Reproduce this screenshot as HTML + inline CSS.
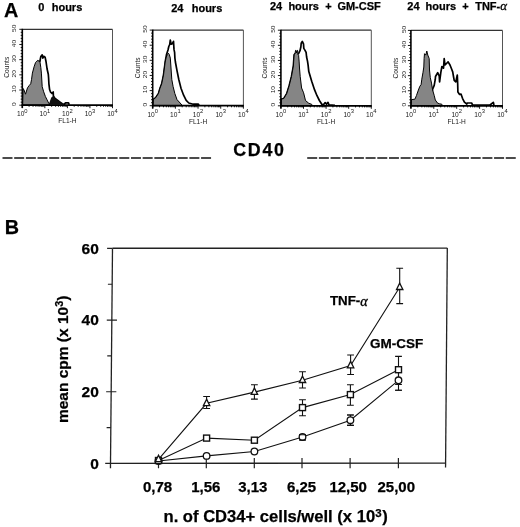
<!DOCTYPE html>
<html><head><meta charset="utf-8"><style>
html,body{margin:0;padding:0;background:#fff;}
svg{display:block;will-change:transform;}
text[font-weight=bold]{stroke:#000;stroke-width:0.25px;}
</style></head><body>
<svg width="520" height="527" viewBox="0 0 520 527" font-family='"Liberation Sans", sans-serif'>
<rect width="520" height="527" fill="#fff"/>
<polyline points="33,85 35.5,66 37.5,61.5 39.9,61.25 40.8,56.6 42.2,54.9 42.8,58.2 43.7,56.3 45.1,57.2 46,61.5 47.1,69 48.3,74.2 48.6,78 48.9,83.8 49.6,89.5 50.6,92.2 52,93.5 53.2,92 53.4,96 54.8,98.2 57.1,99.9 59.4,101.7 62.3,103.7 64.5,104.3 65.5,102.8 68.5,102.8 69.2,104.8" fill="none" stroke="#000" stroke-width="1.7" stroke-linejoin="round"/>
<polygon points="22.6,105 23,88.4 24,90 25.5,94.2 26.5,91 27.5,87.8 29.2,85.5 30.7,83.8 31.5,79.7 32.4,73.1 34.1,66.7 35.6,62.4 36.7,61.25 37.9,60.4 39,61.25 39.9,61.5 40.8,67.3 41.4,73.1 42.2,86.7 43.7,91.8 45.4,96.5 47.1,99.9 48.8,103.4 50,105" fill="#858585" stroke="#000" stroke-width="1.0" stroke-linejoin="round"/>
<polygon points="48.6,104.8 51.3,97.5 53.2,96 54.8,98.4 57.1,100.1 59.4,101.9 62.3,103.9 63.5,104.8" fill="#111"/>
<line x1="22.3" y1="29.3" x2="112.5" y2="29.3" stroke="#333" stroke-width="1.3"/>
<line x1="112.5" y1="29.3" x2="112.5" y2="105.2" stroke="#555" stroke-width="1"/>
<line x1="22.3" y1="28.8" x2="22.3" y2="108.0" stroke="#000" stroke-width="1.6"/>
<line x1="21.5" y1="105.2" x2="113.0" y2="105.2" stroke="#000" stroke-width="1.8"/>
<path d="M19.3,105.2H22.3M20.7,102.16H22.3M20.7,99.13H22.3M20.7,96.09H22.3M20.7,93.06H22.3M19.3,90.02H22.3M20.7,86.98H22.3M20.7,83.95H22.3M20.7,80.91H22.3M20.7,77.88H22.3M19.3,74.84H22.3M20.7,71.8H22.3M20.7,68.77H22.3M20.7,65.73H22.3M20.7,62.7H22.3M19.3,59.66H22.3M20.7,56.62H22.3M20.7,53.59H22.3M20.7,50.55H22.3M20.7,47.52H22.3M19.3,44.48H22.3M20.7,41.44H22.3M20.7,38.41H22.3M20.7,35.37H22.3M20.7,32.34H22.3M19.3,29.3H22.3M22.3,105.2V108.2M29.09,105.2V106.8M33.06,105.2V106.8M35.88,105.2V106.8M38.06,105.2V106.8M39.85,105.2V106.8M41.36,105.2V106.8M42.66,105.2V106.8M43.82,105.2V106.8M44.85,105.2V108.2M51.64,105.2V106.8M55.61,105.2V106.8M58.43,105.2V106.8M60.61,105.2V106.8M62.4,105.2V106.8M63.91,105.2V106.8M65.21,105.2V106.8M66.37,105.2V106.8M67.4,105.2V108.2M74.19,105.2V106.8M78.16,105.2V106.8M80.98,105.2V106.8M83.16,105.2V106.8M84.95,105.2V106.8M86.46,105.2V106.8M87.76,105.2V106.8M88.92,105.2V106.8M89.95,105.2V108.2M96.74,105.2V106.8M100.71,105.2V106.8M103.53,105.2V106.8M105.71,105.2V106.8M107.5,105.2V106.8M109.01,105.2V106.8M110.31,105.2V106.8M111.47,105.2V106.8M112.5,105.2V108.2" stroke="#000" stroke-width="0.9" fill="none"/>
<text transform="translate(15.9,104.2) rotate(-90) scale(1,0.88)" text-anchor="middle" font-size="6.6" fill="#181818">0</text>
<text transform="translate(15.9,89.02) rotate(-90) scale(1,0.88)" text-anchor="middle" font-size="6.6" fill="#181818">10</text>
<text transform="translate(15.9,73.84) rotate(-90) scale(1,0.88)" text-anchor="middle" font-size="6.6" fill="#181818">20</text>
<text transform="translate(15.9,58.66) rotate(-90) scale(1,0.88)" text-anchor="middle" font-size="6.6" fill="#181818">30</text>
<text transform="translate(15.9,43.48) rotate(-90) scale(1,0.88)" text-anchor="middle" font-size="6.6" fill="#181818">40</text>
<text transform="translate(15.9,28.3) rotate(-90) scale(1,0.88)" text-anchor="middle" font-size="6.6" fill="#181818">50</text>
<text transform="translate(9.3,67.25) rotate(-90)" text-anchor="middle" font-size="6.6" fill="#181818">Counts</text>
<text x="22.3" y="116" text-anchor="middle" font-size="6.6" fill="#181818">10<tspan font-size="5.8" dy="-3.3">0</tspan></text>
<text x="44.85" y="116" text-anchor="middle" font-size="6.6" fill="#181818">10<tspan font-size="5.8" dy="-3.3">1</tspan></text>
<text x="67.4" y="116" text-anchor="middle" font-size="6.6" fill="#181818">10<tspan font-size="5.8" dy="-3.3">2</tspan></text>
<text x="89.95" y="116" text-anchor="middle" font-size="6.6" fill="#181818">10<tspan font-size="5.8" dy="-3.3">3</tspan></text>
<text x="112.5" y="116" text-anchor="middle" font-size="6.6" fill="#181818">10<tspan font-size="5.8" dy="-3.3">4</tspan></text>
<text x="67.4" y="123" text-anchor="middle" font-size="6.6" fill="#181818">FL1-H</text>
<polyline points="153,105.7 153.3,99.5 155.7,97.7 158.5,93.4 160,88.2 161.7,83.8 163.5,75.1 165.2,62 166.5,54.6 168,50 168.8,46.5 169.7,44.5 170.3,40.2 171.2,44.2 172.3,43.8 173.5,41.3 174,49.4 174.6,52.3 174.9,58.1 175.4,62 177,70.7 178.8,79.5 181,88.2 183.6,95.2 186.2,100.4 188.8,103 193.2,104.2 198.4,104.2 199,105.3" fill="none" stroke="#000" stroke-width="1.7" stroke-linejoin="round"/>
<polygon points="153,105.7 153.3,99.5 155.7,97.7 158.5,93.4 160,88.2 161.7,83.8 163.5,75.1 165.2,62 166.3,57 167.4,54.4 168.4,53.2 169.3,54.5 170.3,58.1 170.6,62 171.8,79.5 173.1,86.5 174.8,93.4 177,99.6 181,104 182.5,105.7" fill="#858585" stroke="#000" stroke-width="1.0" stroke-linejoin="round"/>
<line x1="152.7" y1="30.1" x2="243.4" y2="30.1" stroke="#333" stroke-width="1.3"/>
<line x1="243.4" y1="30.1" x2="243.4" y2="105.7" stroke="#555" stroke-width="1"/>
<line x1="152.7" y1="29.6" x2="152.7" y2="108.5" stroke="#000" stroke-width="1.6"/>
<line x1="151.89999999999998" y1="105.7" x2="243.9" y2="105.7" stroke="#000" stroke-width="1.8"/>
<path d="M149.7,105.7H152.7M151.1,102.68H152.7M151.1,99.65H152.7M151.1,96.63H152.7M151.1,93.6H152.7M149.7,90.58H152.7M151.1,87.56H152.7M151.1,84.53H152.7M151.1,81.51H152.7M151.1,78.48H152.7M149.7,75.46H152.7M151.1,72.44H152.7M151.1,69.41H152.7M151.1,66.39H152.7M151.1,63.36H152.7M149.7,60.34H152.7M151.1,57.32H152.7M151.1,54.29H152.7M151.1,51.27H152.7M151.1,48.24H152.7M149.7,45.22H152.7M151.1,42.2H152.7M151.1,39.17H152.7M151.1,36.15H152.7M151.1,33.12H152.7M149.7,30.1H152.7M152.7,105.7V108.7M159.53,105.7V107.3M163.52,105.7V107.3M166.35,105.7V107.3M168.55,105.7V107.3M170.34,105.7V107.3M171.86,105.7V107.3M173.18,105.7V107.3M174.34,105.7V107.3M175.38,105.7V108.7M182.2,105.7V107.3M186.19,105.7V107.3M189.03,105.7V107.3M191.22,105.7V107.3M193.02,105.7V107.3M194.54,105.7V107.3M195.85,105.7V107.3M197.01,105.7V107.3M198.05,105.7V108.7M204.88,105.7V107.3M208.87,105.7V107.3M211.7,105.7V107.3M213.9,105.7V107.3M215.69,105.7V107.3M217.21,105.7V107.3M218.53,105.7V107.3M219.69,105.7V107.3M220.72,105.7V108.7M227.55,105.7V107.3M231.54,105.7V107.3M234.38,105.7V107.3M236.57,105.7V107.3M238.37,105.7V107.3M239.89,105.7V107.3M241.2,105.7V107.3M242.36,105.7V107.3M243.4,105.7V108.7" stroke="#000" stroke-width="0.9" fill="none"/>
<text transform="translate(147.3,104.7) rotate(-90) scale(1,0.88)" text-anchor="middle" font-size="6.6" fill="#181818">0</text>
<text transform="translate(147.3,89.58) rotate(-90) scale(1,0.88)" text-anchor="middle" font-size="6.6" fill="#181818">10</text>
<text transform="translate(147.3,74.46) rotate(-90) scale(1,0.88)" text-anchor="middle" font-size="6.6" fill="#181818">20</text>
<text transform="translate(147.3,59.34) rotate(-90) scale(1,0.88)" text-anchor="middle" font-size="6.6" fill="#181818">30</text>
<text transform="translate(147.3,44.22) rotate(-90) scale(1,0.88)" text-anchor="middle" font-size="6.6" fill="#181818">40</text>
<text transform="translate(147.3,29.1) rotate(-90) scale(1,0.88)" text-anchor="middle" font-size="6.6" fill="#181818">50</text>
<text transform="translate(139.6,67.9) rotate(-90)" text-anchor="middle" font-size="6.6" fill="#181818">Counts</text>
<text x="152.7" y="116.5" text-anchor="middle" font-size="6.6" fill="#181818">10<tspan font-size="5.8" dy="-3.3">0</tspan></text>
<text x="175.38" y="116.5" text-anchor="middle" font-size="6.6" fill="#181818">10<tspan font-size="5.8" dy="-3.3">1</tspan></text>
<text x="198.05" y="116.5" text-anchor="middle" font-size="6.6" fill="#181818">10<tspan font-size="5.8" dy="-3.3">2</tspan></text>
<text x="220.72" y="116.5" text-anchor="middle" font-size="6.6" fill="#181818">10<tspan font-size="5.8" dy="-3.3">3</tspan></text>
<text x="243.4" y="116.5" text-anchor="middle" font-size="6.6" fill="#181818">10<tspan font-size="5.8" dy="-3.3">4</tspan></text>
<text x="198.05" y="123.5" text-anchor="middle" font-size="6.6" fill="#181818">FL1-H</text>
<polyline points="281.2,105.8 281.4,99 283.8,98.5 286.7,93.7 289.1,86 291.5,76.4 293.4,66 293.7,61.1 294.2,54.7 295.1,53.6 298.4,54 300,50.7 300.9,46.7 301.2,43.2 302.3,41.5 303.5,43.8 303.8,48.4 304.9,50.1 306.1,52.4 306.6,57 307.5,61.1 308.1,65.1 308.8,71.6 311.7,81.2 314.6,89.9 317,95.7 319.4,100.5 321.8,104.3 323.5,104.8 325.2,102.6 326.5,104.3 328,102.4 329,104.8 335,105.3" fill="none" stroke="#000" stroke-width="1.7" stroke-linejoin="round"/>
<polygon points="281.2,105.8 281.4,99 283.8,98.5 286.7,93.7 289.1,86 291.5,76.4 293.4,66 293.7,61.1 294.2,54.7 295.1,53.6 295.5,50.4 296,50.4 296.5,53 297.1,50.4 297.6,50.4 298,54.7 298.6,55.3 299.1,61.1 299.5,68 300.2,76.4 301.6,88 303.6,92.8 305.5,100.5 308.8,103.3 311.7,104.3 312.5,105.8" fill="#858585" stroke="#000" stroke-width="1.0" stroke-linejoin="round"/>
<line x1="280.9" y1="30.2" x2="371.3" y2="30.2" stroke="#333" stroke-width="1.3"/>
<line x1="371.3" y1="30.2" x2="371.3" y2="105.8" stroke="#555" stroke-width="1"/>
<line x1="280.9" y1="29.7" x2="280.9" y2="108.6" stroke="#000" stroke-width="1.6"/>
<line x1="280.09999999999997" y1="105.8" x2="371.8" y2="105.8" stroke="#000" stroke-width="1.8"/>
<path d="M277.9,105.8H280.9M279.3,102.78H280.9M279.3,99.75H280.9M279.3,96.73H280.9M279.3,93.7H280.9M277.9,90.68H280.9M279.3,87.66H280.9M279.3,84.63H280.9M279.3,81.61H280.9M279.3,78.58H280.9M277.9,75.56H280.9M279.3,72.54H280.9M279.3,69.51H280.9M279.3,66.49H280.9M279.3,63.46H280.9M277.9,60.44H280.9M279.3,57.42H280.9M279.3,54.39H280.9M279.3,51.37H280.9M279.3,48.34H280.9M277.9,45.32H280.9M279.3,42.3H280.9M279.3,39.27H280.9M279.3,36.25H280.9M279.3,33.22H280.9M277.9,30.2H280.9M280.9,105.8V108.8M287.7,105.8V107.4M291.68,105.8V107.4M294.51,105.8V107.4M296.7,105.8V107.4M298.49,105.8V107.4M300,105.8V107.4M301.31,105.8V107.4M302.47,105.8V107.4M303.5,105.8V108.8M310.3,105.8V107.4M314.28,105.8V107.4M317.11,105.8V107.4M319.3,105.8V107.4M321.09,105.8V107.4M322.6,105.8V107.4M323.91,105.8V107.4M325.07,105.8V107.4M326.1,105.8V108.8M332.9,105.8V107.4M336.88,105.8V107.4M339.71,105.8V107.4M341.9,105.8V107.4M343.69,105.8V107.4M345.2,105.8V107.4M346.51,105.8V107.4M347.67,105.8V107.4M348.7,105.8V108.8M355.5,105.8V107.4M359.48,105.8V107.4M362.31,105.8V107.4M364.5,105.8V107.4M366.29,105.8V107.4M367.8,105.8V107.4M369.11,105.8V107.4M370.27,105.8V107.4M371.3,105.8V108.8" stroke="#000" stroke-width="0.9" fill="none"/>
<text transform="translate(275.2,104.8) rotate(-90) scale(1,0.88)" text-anchor="middle" font-size="6.6" fill="#181818">0</text>
<text transform="translate(275.2,89.68) rotate(-90) scale(1,0.88)" text-anchor="middle" font-size="6.6" fill="#181818">10</text>
<text transform="translate(275.2,74.56) rotate(-90) scale(1,0.88)" text-anchor="middle" font-size="6.6" fill="#181818">20</text>
<text transform="translate(275.2,59.44) rotate(-90) scale(1,0.88)" text-anchor="middle" font-size="6.6" fill="#181818">30</text>
<text transform="translate(275.2,44.32) rotate(-90) scale(1,0.88)" text-anchor="middle" font-size="6.6" fill="#181818">40</text>
<text transform="translate(275.2,29.2) rotate(-90) scale(1,0.88)" text-anchor="middle" font-size="6.6" fill="#181818">50</text>
<text transform="translate(267.3,68) rotate(-90)" text-anchor="middle" font-size="6.6" fill="#181818">Counts</text>
<text x="280.9" y="116.6" text-anchor="middle" font-size="6.6" fill="#181818">10<tspan font-size="5.8" dy="-3.3">0</tspan></text>
<text x="303.5" y="116.6" text-anchor="middle" font-size="6.6" fill="#181818">10<tspan font-size="5.8" dy="-3.3">1</tspan></text>
<text x="326.1" y="116.6" text-anchor="middle" font-size="6.6" fill="#181818">10<tspan font-size="5.8" dy="-3.3">2</tspan></text>
<text x="348.7" y="116.6" text-anchor="middle" font-size="6.6" fill="#181818">10<tspan font-size="5.8" dy="-3.3">3</tspan></text>
<text x="371.3" y="116.6" text-anchor="middle" font-size="6.6" fill="#181818">10<tspan font-size="5.8" dy="-3.3">4</tspan></text>
<text x="326.1" y="123.6" text-anchor="middle" font-size="6.6" fill="#181818">FL1-H</text>
<polyline points="431,100 432.6,89.2 434.2,85.4 435.3,79.2 435.5,76.5 437.7,72.7 439.2,75.8 439.6,81.9 440.8,72.7 441.9,66.5 443.5,68.1 444.2,58.5 445,65 446.5,63.5 448.1,61.9 450,65 451.5,68.8 452.7,71.9 453.5,76.5 454.2,80.4 455.8,81.9 457.3,75 457.7,84.2 457.9,91.9 459.6,94.4 461,94 462.5,98.3 464.4,102.1 466.8,104 467.3,103 471.6,103 472.6,105 490,105 493.3,102.3 494,105" fill="none" stroke="#000" stroke-width="1.7" stroke-linejoin="round"/>
<polygon points="411.2,105.8 411.5,99.6 414.9,99.2 416.5,95.4 418.4,90 419.9,86.2 421.1,84.6 421.8,79.2 423,72.3 423.8,67 424.1,58.5 424.5,53.7 425.8,55.1 426.8,51 427.8,55.1 429.2,58.5 429.5,70 430.3,77.7 431.5,83.1 432.6,90 434.2,95.4 435.3,100 437.6,103.1 439.5,103.8 441.8,104.2 442.5,105.8" fill="#858585" stroke="#000" stroke-width="1.0" stroke-linejoin="round"/>
<line x1="410.9" y1="30.4" x2="502.5" y2="30.4" stroke="#333" stroke-width="1.3"/>
<line x1="502.5" y1="30.4" x2="502.5" y2="105.8" stroke="#555" stroke-width="1"/>
<line x1="410.9" y1="29.9" x2="410.9" y2="108.6" stroke="#000" stroke-width="1.6"/>
<line x1="410.09999999999997" y1="105.8" x2="503.0" y2="105.8" stroke="#000" stroke-width="1.8"/>
<path d="M407.9,105.8H410.9M409.3,102.78H410.9M409.3,99.77H410.9M409.3,96.75H410.9M409.3,93.74H410.9M407.9,90.72H410.9M409.3,87.7H410.9M409.3,84.69H410.9M409.3,81.67H410.9M409.3,78.66H410.9M407.9,75.64H410.9M409.3,72.62H410.9M409.3,69.61H410.9M409.3,66.59H410.9M409.3,63.58H410.9M407.9,60.56H410.9M409.3,57.54H410.9M409.3,54.53H410.9M409.3,51.51H410.9M409.3,48.5H410.9M407.9,45.48H410.9M409.3,42.46H410.9M409.3,39.45H410.9M409.3,36.43H410.9M409.3,33.42H410.9M407.9,30.4H410.9M410.9,105.8V108.8M417.79,105.8V107.4M421.83,105.8V107.4M424.69,105.8V107.4M426.91,105.8V107.4M428.72,105.8V107.4M430.25,105.8V107.4M431.58,105.8V107.4M432.75,105.8V107.4M433.8,105.8V108.8M440.69,105.8V107.4M444.73,105.8V107.4M447.59,105.8V107.4M449.81,105.8V107.4M451.62,105.8V107.4M453.15,105.8V107.4M454.48,105.8V107.4M455.65,105.8V107.4M456.7,105.8V108.8M463.59,105.8V107.4M467.63,105.8V107.4M470.49,105.8V107.4M472.71,105.8V107.4M474.52,105.8V107.4M476.05,105.8V107.4M477.38,105.8V107.4M478.55,105.8V107.4M479.6,105.8V108.8M486.49,105.8V107.4M490.53,105.8V107.4M493.39,105.8V107.4M495.61,105.8V107.4M497.42,105.8V107.4M498.95,105.8V107.4M500.28,105.8V107.4M501.45,105.8V107.4M502.5,105.8V108.8" stroke="#000" stroke-width="0.9" fill="none"/>
<text transform="translate(405.9,104.8) rotate(-90) scale(1,0.88)" text-anchor="middle" font-size="6.6" fill="#181818">0</text>
<text transform="translate(405.9,89.72) rotate(-90) scale(1,0.88)" text-anchor="middle" font-size="6.6" fill="#181818">10</text>
<text transform="translate(405.9,74.64) rotate(-90) scale(1,0.88)" text-anchor="middle" font-size="6.6" fill="#181818">20</text>
<text transform="translate(405.9,59.56) rotate(-90) scale(1,0.88)" text-anchor="middle" font-size="6.6" fill="#181818">30</text>
<text transform="translate(405.9,44.48) rotate(-90) scale(1,0.88)" text-anchor="middle" font-size="6.6" fill="#181818">40</text>
<text transform="translate(405.9,29.4) rotate(-90) scale(1,0.88)" text-anchor="middle" font-size="6.6" fill="#181818">50</text>
<text transform="translate(397.9,68.1) rotate(-90)" text-anchor="middle" font-size="6.6" fill="#181818">Counts</text>
<text x="410.9" y="116.6" text-anchor="middle" font-size="6.6" fill="#181818">10<tspan font-size="5.8" dy="-3.3">0</tspan></text>
<text x="433.8" y="116.6" text-anchor="middle" font-size="6.6" fill="#181818">10<tspan font-size="5.8" dy="-3.3">1</tspan></text>
<text x="456.7" y="116.6" text-anchor="middle" font-size="6.6" fill="#181818">10<tspan font-size="5.8" dy="-3.3">2</tspan></text>
<text x="479.6" y="116.6" text-anchor="middle" font-size="6.6" fill="#181818">10<tspan font-size="5.8" dy="-3.3">3</tspan></text>
<text x="502.5" y="116.6" text-anchor="middle" font-size="6.6" fill="#181818">10<tspan font-size="5.8" dy="-3.3">4</tspan></text>
<text x="456.7" y="123.6" text-anchor="middle" font-size="6.6" fill="#181818">FL1-H</text>
<text x="38.2" y="11" font-weight="bold" font-size="11">0</text><text x="51.7" y="11" font-weight="bold" font-size="11">hours</text>
<text x="171.2" y="11.5" font-weight="bold" font-size="11">24</text><text x="191.7" y="11.5" font-weight="bold" font-size="11">hours</text>
<text x="270.0" y="10.3" font-weight="bold" font-size="11">24</text><text x="288.4" y="10.3" font-weight="bold" font-size="11">hours</text><text x="325.2" y="10.3" font-weight="bold" font-size="11">+</text><text x="337.4" y="10.3" font-weight="bold" font-size="11">GM-CSF</text>
<text x="407.3" y="9.8" font-weight="bold" font-size="11">24</text><text x="425.6" y="9.8" font-weight="bold" font-size="11">hours</text><text x="462.2" y="9.8" font-weight="bold" font-size="11">+</text><text x="475.2" y="9.8" font-weight="bold" font-size="11">TNF-</text><text x="500.2" y="10" font-size="12.9" font-style="italic" font-family="Liberation Serif" stroke="#000" stroke-width="0.3">α</text>
<text x="3.9" y="16.8" font-weight="bold" font-size="19.8" stroke="#000" stroke-width="0.5">A</text>
<text x="4.8" y="233.7" font-weight="bold" font-size="19.8" stroke="#000" stroke-width="0.5">B</text>
<path d="M2.5,157.9h10M14.18,157.9h10M25.86,157.9h10M37.54,157.9h10M49.22,157.9h10M60.9,157.9h10M72.58,157.9h10M84.26,157.9h10M95.94,157.9h10M107.62,157.9h10M119.3,157.9h10M130.98,157.9h10M142.66,157.9h10M154.34,157.9h10M166.02,157.9h10M177.7,157.9h10M189.38,157.9h10M201.06,157.9h10M307.2,158.1h10M318.88,158.1h10M330.56,158.1h10M342.24,158.1h10M353.92,158.1h10M365.6,158.1h10M377.28,158.1h10M388.96,158.1h10M400.64,158.1h10M412.32,158.1h10M424,158.1h10M435.68,158.1h10M447.36,158.1h10M459.04,158.1h10M470.72,158.1h10M482.4,158.1h10M494.08,158.1h10M505.76,158.1h10" stroke="#111" stroke-width="1.5"/>
<text x="233.3" y="155.9" font-weight="bold" font-size="17.8" letter-spacing="1.7" stroke="#000" stroke-width="0.35">CD40</text>
<g stroke="#222" fill="none">
<line x1="112.5" y1="248.4" x2="110.45" y2="468.3" stroke-width="1.3"/>
<line x1="112.5" y1="248.3" x2="447.3" y2="248.1" stroke-width="1.4"/>
<line x1="447.3" y1="248.1" x2="445.55" y2="467.6" stroke-width="1.3"/>
<line x1="105.2" y1="463.4" x2="445.6" y2="463.1" stroke-width="1.4"/>
<path d="M106.13,391.74H116.33M106.77,320.08H116.97M106.62,427.57H110.82M107.25,355.91H111.45M107.88,284.25H112.08M107.1,248.4H112.5M158.5,458V468.2M206.3,458V468.2M254.3,458V468.2M302,458V468.2M350.1,458V468.2M398.4,458V468.2" stroke-width="1.2"/>
</g>
<text x="98.8" y="468.7" text-anchor="end" font-weight="bold" font-size="15.5">0</text>
<text x="98.8" y="397.04" text-anchor="end" font-weight="bold" font-size="15.5">20</text>
<text x="98.8" y="325.38" text-anchor="end" font-weight="bold" font-size="15.5">40</text>
<text x="98.8" y="253.7" text-anchor="end" font-weight="bold" font-size="15.5">60</text>
<text x="157.6" y="491.8" text-anchor="middle" font-weight="bold" font-size="15">0,78</text>
<text x="205.8" y="491.8" text-anchor="middle" font-weight="bold" font-size="15">1,56</text>
<text x="252.8" y="491.8" text-anchor="middle" font-weight="bold" font-size="15">3,13</text>
<text x="301.6" y="491.8" text-anchor="middle" font-weight="bold" font-size="15">6,25</text>
<text x="348.2" y="491.8" text-anchor="middle" font-weight="bold" font-size="15">12,50</text>
<text x="396.3" y="491.8" text-anchor="middle" font-weight="bold" font-size="15">25,00</text>
<text x="163.5" y="521.8" font-weight="bold" font-size="16.6">n. of CD34+ cells/well (x 10<tspan font-size="11.5" dy="-5">3</tspan><tspan dy="5" dx="0.6">)</tspan></text>
<text transform="translate(67.8,423.1) rotate(-90)" font-weight="bold" font-size="15.5">mean cpm (x 10<tspan font-size="10.8" dy="-4.6">3</tspan><tspan dy="4.6">)</tspan></text>
<text x="330" y="305" font-weight="bold" font-size="13.3">TNF-</text><text x="360.3" y="306.2" font-size="14.2" font-style="italic" font-family="Liberation Serif" stroke="#000" stroke-width="0.35">α</text>
<text x="370" y="348.4" font-weight="bold" font-size="13.5">GM-CSF</text>
<polyline points="158.5,459.3 206.6,403.3 254.4,392.1 302.5,380.2 350.6,365.5 399.7,287.2" fill="none" stroke="#111" stroke-width="1.1"/>
<polyline points="158.5,460.5 206.6,438.1 254.4,440.2 302.5,407.6 350.4,394.6 398.5,369.7" fill="none" stroke="#111" stroke-width="1.1"/>
<polyline points="158.5,461 206.6,455.9 254.4,451.5 302.5,437 350.4,420.2 398.5,380.3" fill="none" stroke="#111" stroke-width="1.1"/>
<path d="M206.6,396.5V408.5M203.2,396.5H210M203.2,408.5H210M254.4,384.8V399.1M251,384.8H257.8M251,399.1H257.8M302.5,371.8V388M299.1,371.8H305.9M299.1,388H305.9M350.6,355V374.5M347.2,355H354M347.2,374.5H354M399.7,268.2V303.6M396.3,268.2H403.1M396.3,303.6H403.1" stroke="#111" stroke-width="1.1" fill="none"/>
<path d="M302.5,399.8V415.7M299.1,399.8H305.9M299.1,415.7H305.9M350.4,384.7V405.3M347,384.7H353.8M347,405.3H353.8M398.5,356.4V384.5M395.1,356.4H401.9M395.1,384.5H401.9" stroke="#111" stroke-width="1.1" fill="none"/>
<path d="M302.5,434.7V440M299.1,434.7H305.9M299.1,440H305.9M350.4,415V425.4M347,415H353.8M347,425.4H353.8M398.5,372V390.2M395.1,372H401.9M395.1,390.2H401.9" stroke="#111" stroke-width="1.1" fill="none"/>
<circle cx="158.5" cy="461" r="3.3" fill="#fff" stroke="#111" stroke-width="1.3"/>
<circle cx="206.6" cy="455.9" r="3.3" fill="#fff" stroke="#111" stroke-width="1.3"/>
<circle cx="254.4" cy="451.5" r="3.3" fill="#fff" stroke="#111" stroke-width="1.3"/>
<circle cx="302.5" cy="437" r="3.3" fill="#fff" stroke="#111" stroke-width="1.3"/>
<circle cx="350.4" cy="420.2" r="3.3" fill="#fff" stroke="#111" stroke-width="1.3"/>
<circle cx="398.5" cy="380.3" r="3.3" fill="#fff" stroke="#111" stroke-width="1.3"/>
<path d="M299.1,434.7H305.9M299.1,440H305.9M347,415H353.8M347,425.4H353.8M395.1,372H401.9M395.1,390.2H401.9" stroke="#111" stroke-width="1.1" fill="none"/>
<rect x="155.5" y="457.5" width="6" height="6" fill="#fff" stroke="#111" stroke-width="1.4"/>
<rect x="203.6" y="435.1" width="6" height="6" fill="#fff" stroke="#111" stroke-width="1.4"/>
<rect x="251.4" y="437.2" width="6" height="6" fill="#fff" stroke="#111" stroke-width="1.4"/>
<rect x="299.5" y="404.6" width="6" height="6" fill="#fff" stroke="#111" stroke-width="1.4"/>
<rect x="347.4" y="391.6" width="6" height="6" fill="#fff" stroke="#111" stroke-width="1.4"/>
<rect x="395.5" y="366.7" width="6" height="6" fill="#fff" stroke="#111" stroke-width="1.4"/>
<polygon points="158.5,455.2 155.3,461.6 161.7,461.6" fill="#fff" stroke="#111" stroke-width="1.3" stroke-linejoin="miter"/>
<polygon points="206.6,399.2 203.4,405.6 209.8,405.6" fill="#fff" stroke="#111" stroke-width="1.3" stroke-linejoin="miter"/>
<polygon points="254.4,388 251.2,394.4 257.6,394.4" fill="#fff" stroke="#111" stroke-width="1.3" stroke-linejoin="miter"/>
<polygon points="302.5,376.1 299.3,382.5 305.7,382.5" fill="#fff" stroke="#111" stroke-width="1.3" stroke-linejoin="miter"/>
<polygon points="350.6,361.4 347.4,367.8 353.8,367.8" fill="#fff" stroke="#111" stroke-width="1.3" stroke-linejoin="miter"/>
<polygon points="399.7,283.1 396.5,289.5 402.9,289.5" fill="#fff" stroke="#111" stroke-width="1.3" stroke-linejoin="miter"/>
</svg>
</body></html>
